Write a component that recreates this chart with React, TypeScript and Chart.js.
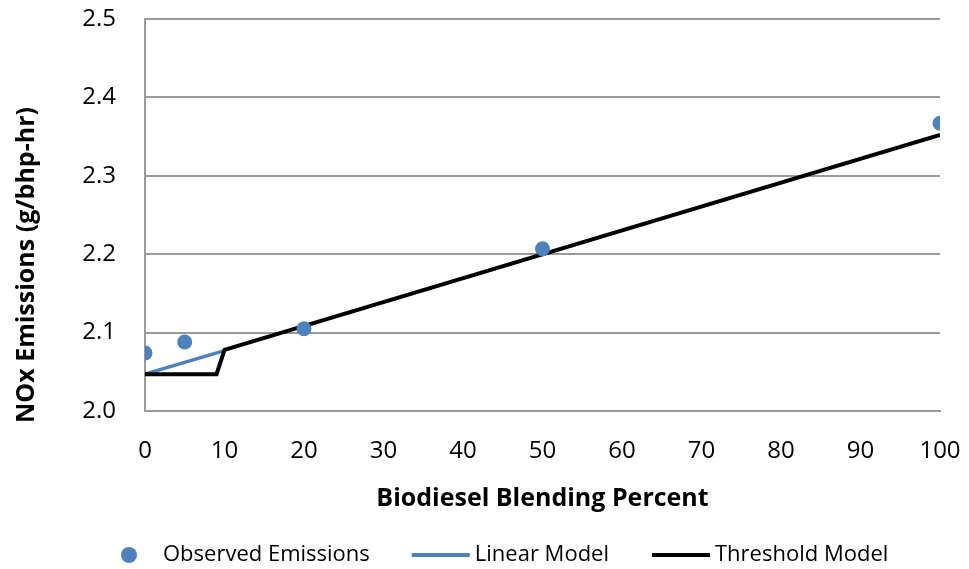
import React, { useEffect, useRef } from "react";
import { Chart, registerables } from "chart.js";

Chart.register(...registerables);

// ---- data ----
const observedX = [0, 5, 20, 50, 100];
const observedY = [2.074, 2.088, 2.105, 2.207, 2.367];
const linearX = [0, 10];
const linearY = [2.047, 2.077];
const thresholdX = [0, 9, 10, 100];
const thresholdY = [2.047, 2.047, 2.078, 2.352];

const xTicks = [0, 10, 20, 30, 40, 50, 60, 70, 80, 90, 100];
const yTicks = [2.0, 2.1, 2.2, 2.3, 2.4, 2.5];

const seriesNames = ["Observed Emissions", "Linear Model", "Threshold Model"];
const xTitle = "Biodiesel Blending Percent";
const yTitle = "NOx Emissions (g/bhp-hr)";

const BLUE = "#4F81BD";
const GRID = "#9a9a9a";
const FONT = "'Open Sans', 'Noto Sans', sans-serif";

const toPts = (xs: number[], ys: number[]) => xs.map((x, i) => ({ x, y: ys[i] }));

const yTitlePlugin = {
  id: "yTitlePlugin",
  afterDraw(chart: any) {
    const ctx = chart.ctx;
    ctx.save();
    ctx.translate(27, 265);
    ctx.rotate(-Math.PI / 2);
    ctx.font = `bold 25px ${FONT}`;
    ctx.fillStyle = "#000";
    ctx.textAlign = "center";
    ctx.textBaseline = "middle";
    ctx.fillText(yTitle, 0, 0);
    ctx.restore();
  },
};

const legendPlugin = {
  id: "customLegend",
  afterDraw(chart: any) {
    const ctx = chart.ctx;
    const ds = chart.data.datasets;
    const y = 555;
    ctx.save();
    ctx.font = `22px ${FONT}`;
    ctx.textBaseline = "middle";
    ctx.textAlign = "left";
    let x = 121;
    // item 1: marker
    ctx.beginPath();
    ctx.arc(x + 8, y, 8, 0, Math.PI * 2);
    ctx.fillStyle = BLUE;
    ctx.fill();
    ctx.fillStyle = "#000";
    x += 42;
    ctx.fillText(ds[0].label, x, y);
    x += ctx.measureText(ds[0].label).width + 42;
    // items 2 & 3: lines
    for (let i = 1; i < 3; i++) {
      ctx.beginPath();
      ctx.moveTo(x, y);
      ctx.lineTo(x + 58, y);
      ctx.strokeStyle = ds[i].borderColor;
      ctx.lineWidth = 4;
      ctx.stroke();
      x += 63;
      ctx.fillStyle = "#000";
      ctx.fillText(ds[i].label, x, y);
      x += ctx.measureText(ds[i].label).width + 43;
    }
    ctx.restore();
  },
};

export default function App() {
  const ref = useRef<HTMLCanvasElement | null>(null);
  useEffect(() => {
    if (!ref.current) return;
    const chart = new Chart(ref.current, {
      type: "scatter",
      data: {
        datasets: [
          {
            label: seriesNames[0],
            data: toPts(observedX, observedY),
            backgroundColor: BLUE,
            borderColor: BLUE,
            pointRadius: 7.5,
            pointBorderWidth: 0,
            showLine: false,
            order: 0,
          },
          {
            label: seriesNames[1],
            data: toPts(linearX, linearY),
            borderColor: BLUE,
            backgroundColor: BLUE,
            borderWidth: 3.5,
            pointRadius: 0,
            showLine: true,
            order: 2,
          },
          {
            label: seriesNames[2],
            data: toPts(thresholdX, thresholdY),
            borderColor: "#000",
            backgroundColor: "#000",
            borderWidth: 4,
            pointRadius: 0,
            showLine: true,
            order: 1,
          },
        ],
      },
      options: {
        responsive: false,
        animation: false,
        layout: { padding: { left: 0, top: 19, right: 29, bottom: 40 } },
        plugins: {
          legend: { display: false },
          tooltip: { enabled: false },
        },
        scales: {
          x: {
            type: "linear",
            min: 0,
            max: 100,
            afterBuildTicks: (s: any) => {
              s.ticks = xTicks.map((v) => ({ value: v }));
            },
            afterFit: (s: any) => {
              s.height = 118;
              s.paddingLeft = 0;
              s.paddingRight = 0;
            },
            ticks: {
              color: "#000",
              font: { family: FONT, size: 24 },
              padding: 26,
              maxRotation: 0,
            },
            grid: { display: false, drawTicks: false },
            border: { display: true, color: GRID, width: 2 },
            title: {
              display: true,
              text: xTitle,
              color: "#000",
              font: { family: FONT, size: 25, weight: "bold" },
              padding: { top: 0, bottom: 15 },
            },
          },
          y: {
            type: "linear",
            min: 2.0,
            max: 2.5,
            afterBuildTicks: (s: any) => {
              s.ticks = yTicks.map((v) => ({ value: v }));
            },
            afterFit: (s: any) => {
              s.width = 145;
              s.paddingTop = 0;
              s.paddingBottom = 0;
            },
            ticks: {
              color: "#000",
              font: { family: FONT, size: 24 },
              padding: 29,
              callback: (v: any) => Number(v).toFixed(1),
            },
            grid: { color: GRID, lineWidth: 2, drawTicks: false },
            border: { display: true, color: GRID, width: 2 },
            title: { display: false },
          },
        },
      },
      plugins: [yTitlePlugin, legendPlugin],
    } as any);
    return () => chart.destroy();
  }, []);
  return (
    <div style={{ position: "fixed", left: 0, top: 0, width: 969, height: 569, background: "#fff" }}>
      <canvas ref={ref} width={969} height={569} />
    </div>
  );
}
